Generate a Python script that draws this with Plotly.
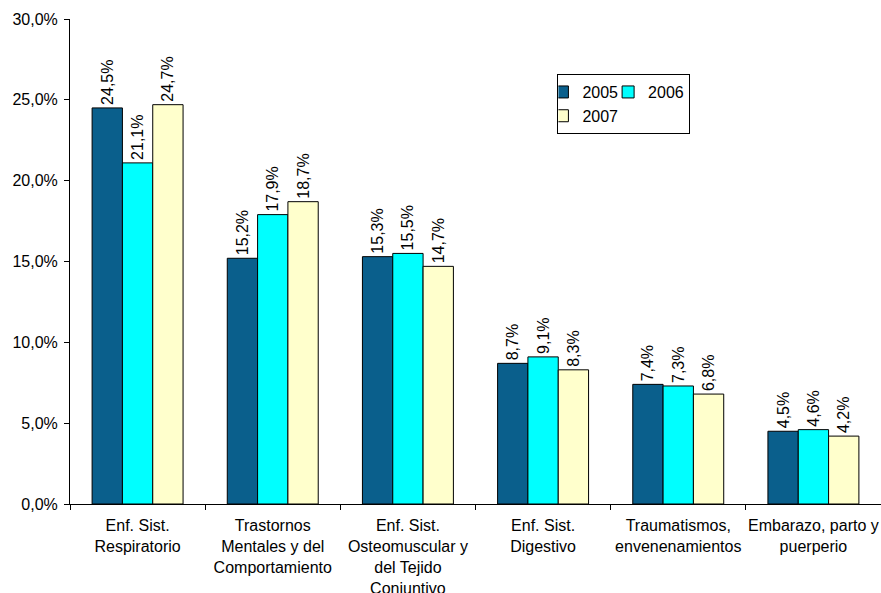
import plotly.graph_objects as go

categories = [
    "Enf. Sist.<br>Respiratorio",
    "Trastornos<br>Mentales y del<br>Comportamiento",
    "Enf. Sist.<br>Osteomuscular y<br>del Tejido<br>Conjuntivo",
    "Enf. Sist.<br>Digestivo",
    "Traumatismos,<br>envenenamientos",
    "Embarazo, parto y<br>puerperio",
]
years = ["2005", "2006", "2007"]
values_2005 = [0.245, 0.152, 0.153, 0.087, 0.074, 0.045]
values_2006 = [0.211, 0.179, 0.155, 0.091, 0.073, 0.046]
values_2007 = [0.247, 0.187, 0.147, 0.083, 0.068, 0.042]
series = [values_2005, values_2006, values_2007]
colors = ["#0A5F8C", "#00FFFF", "#FFFFCC"]
groups = ["a", "b", "a"]

FONT = "Liberation Sans, Arial, sans-serif"

fig = go.Figure()
for name, vals, col, grp in zip(years, series, colors, groups):
    fig.add_trace(go.Bar(
        x=categories, y=vals, name=name,
        marker=dict(color=col, line=dict(color="black", width=1)),
        texttemplate="%{y:.1%}", textposition="outside", textangle=-90,
        textfont=dict(family=FONT, size=16, color="black"),
        constraintext="none", cliponaxis=False,
        legendgroup=grp,
    ))

fig.update_layout(
    width=881, height=593,
    margin=dict(l=70, r=0, t=19, b=89, autoexpand=False),
    paper_bgcolor="white", plot_bgcolor="white",
    separators=",.",
    font=dict(family=FONT, size=16, color="black"),
    barmode="group", bargap=0.327, bargroupgap=0,
    showlegend=True,
    legend=dict(
        orientation="h", traceorder="grouped", tracegroupgap=0,
        x=0.601, y=0.8865, xanchor="left", yanchor="top",
        bordercolor="black", borderwidth=1, bgcolor="white",
        itemwidth=30, indentation=-15,
        font=dict(family=FONT, size=16, color="black"),
    ),
)
fig.update_yaxes(
    range=[0, 0.30], dtick=0.05, tickformat=".1%",
    showline=True, linecolor="black", linewidth=1,
    ticks="outside", ticklen=5, tickcolor="black",
    showgrid=False, zeroline=False, automargin=False,
    ticklabelstandoff=3,
    tickfont=dict(family=FONT, size=16, color="black"),
)
fig.update_xaxes(
    showline=True, linecolor="black", linewidth=1,
    ticks="outside", ticklen=5, tickcolor="black", tickson="boundaries",
    showgrid=False, tickangle=0, automargin=False,
    ticklabelstandoff=7,
    tickfont=dict(family=FONT, size=16, color="black"),
)

fig.write_html(
    "out.html",
    config={"displayModeBar": False},
    post_script="document.body.style.margin='0px';document.body.style.overflow='hidden';",
)
